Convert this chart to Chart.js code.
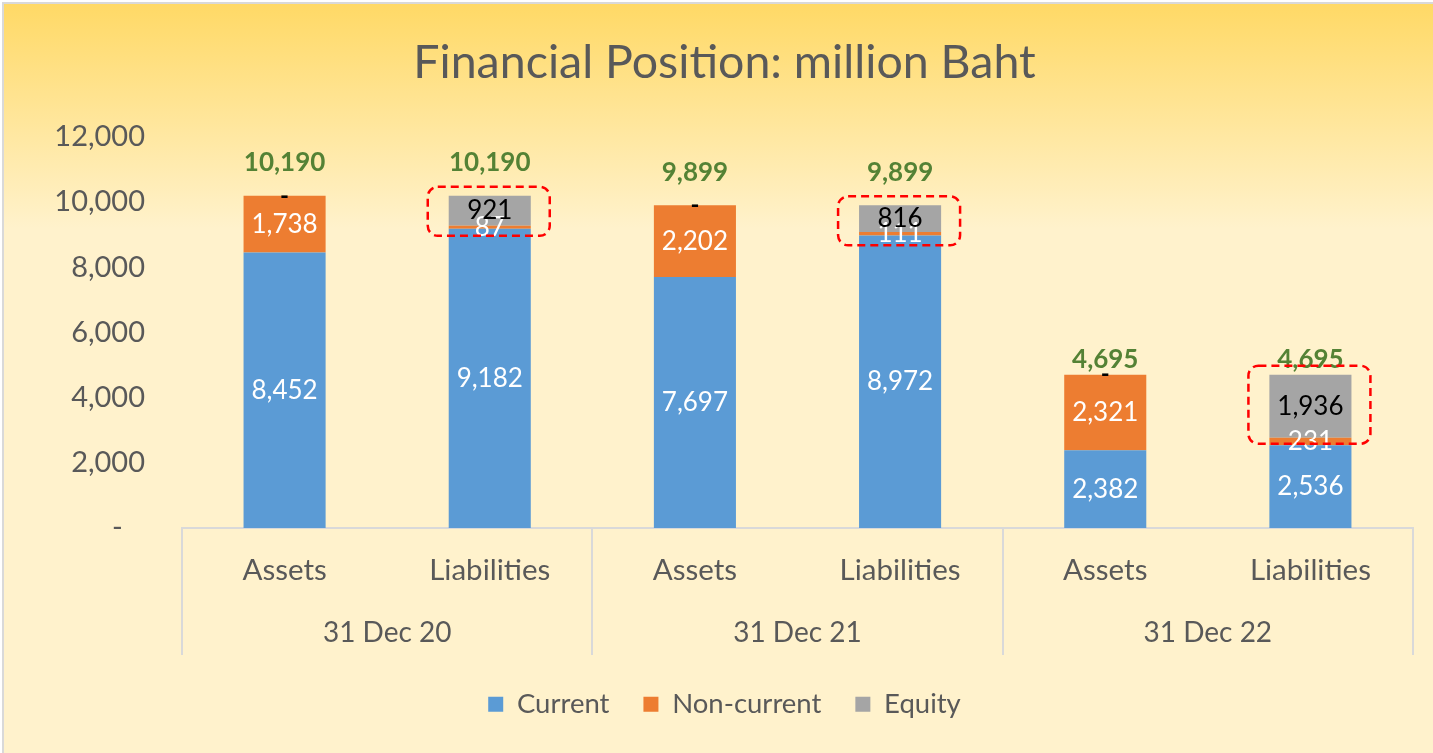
<!DOCTYPE html>
<html>
<head>
<meta charset="utf-8">
<script src="https://cdn.jsdelivr.net/npm/chart.js@4.4.1/dist/chart.umd.min.js"></script>
<style>
  html, body { margin: 0; padding: 0; background: #ffffff; }
  #frame {
    position: absolute;
    left: 2px;
    top: 2px;
    width: 1431px;
    height: 751px;
    box-sizing: border-box;
    border-left: 2px solid #d9d9d9;
    border-top: 2px solid #d9d9d9;
    background: linear-gradient(to bottom, #ffd966 0%, #fff2cc 30%, #fff2cc 100%);
  }
  #chart { position: absolute; left: 0; top: 0; }
</style>
</head>
<body>
<div id="frame"></div>
<canvas id="chart" width="1433" height="753"></canvas>
<script>
const categories = ["Assets", "Liabilities", "Assets", "Liabilities", "Assets", "Liabilities"];
const periods = ["31 Dec 20", "31 Dec 21", "31 Dec 22"];

const currentValues = [8452, 9182, 7697, 8972, 2382, 2536];
const nonCurrentValues = [1738, 87, 2202, 111, 2321, 231];
const equityValues = [0, 921, 0, 816, 0, 1936];
const totalValues = [10190, 10190, 9899, 9899, 4695, 4695];

const TEXT_GREY = "#595959";
const FONT = "Lato";

function formatNumber(value) {
  if (value === 0) return "-";
  return value.toLocaleString("en-US");
}

// labels inside the segments, totals above, red boxes round the equity
const labelPlugin = {
  id: "barLabels",
  afterDatasetsDraw(chart) {
    const ctx = chart.ctx;
    const yScale = chart.scales.y;
    ctx.save();
    ctx.textAlign = "center";
    ctx.textBaseline = "middle";

    chart.data.datasets.forEach((dataset, dsIndex) => {
      const meta = chart.getDatasetMeta(dsIndex);
      meta.data.forEach((bar, i) => {
        const value = dataset.data[i];
        const y = (bar.y + bar.base) / 2;
        if (value === 0) {
          ctx.font = "bold 24px " + FONT;
          ctx.fillStyle = "#000000";
        } else {
          ctx.font = "26px " + FONT;
          ctx.fillStyle = dataset.labelColor;
        }
        ctx.fillText(formatNumber(value), bar.x, y);
      });
    });

    const topMeta = chart.getDatasetMeta(0);
    ctx.font = "bold 26px " + FONT;
    ctx.fillStyle = "#548235";
    topMeta.data.forEach((bar, i) => {
      ctx.fillText(formatNumber(totalValues[i]), bar.x, yScale.getPixelForValue(totalValues[i] * 1.1));
    });

    const equityMeta = chart.getDatasetMeta(2);
    ctx.strokeStyle = "#ff0000";
    ctx.lineWidth = 2.5;
    ctx.setLineDash([8, 5]);
    equityMeta.data.forEach((bar, i) => {
      if (equityValues[i] === 0) return;
      const x1 = bar.x - 62;
      const x2 = bar.x + 60;
      const y1 = bar.y - 9;
      const y2 = Math.max(bar.base + 6, bar.y + 40);
      ctx.beginPath();
      ctx.roundRect(x1, y1, x2 - x1, y2 - y1, 10);
      ctx.stroke();
    });
    ctx.restore();
  },
  afterDraw(chart) {
    // group separators under the category axis
    const ctx = chart.ctx;
    const xScale = chart.scales.x;
    const bottom = chart.chartArea.bottom;
    const step = (xScale.right - xScale.left) / categories.length;
    ctx.save();
    ctx.strokeStyle = "#d9d9d9";
    ctx.lineWidth = 2;
    for (let i = 0; i <= categories.length; i += 2) {
      const x = Math.round(xScale.left + step * i);
      ctx.beginPath();
      ctx.moveTo(x, bottom);
      ctx.lineTo(x, bottom + 127);
      ctx.stroke();
    }
    ctx.restore();
  },
};

function drawChart() {
  new Chart(document.getElementById("chart"), {
    type: "bar",
    data: {
      labels: categories,
      datasets: [
        {
          label: "Current",
          data: currentValues,
          backgroundColor: "#5b9bd5",
          labelColor: "#ffffff",
        },
        {
          label: "Non-current",
          data: nonCurrentValues,
          backgroundColor: "#ed7d31",
          labelColor: "#ffffff",
        },
        {
          label: "Equity",
          data: equityValues,
          backgroundColor: "#a5a5a5",
          labelColor: "#000000",
        },
      ],
    },
    options: {
      responsive: false,
      animation: false,
      categoryPercentage: 1,
      barPercentage: 0.4,
      layout: {
        padding: { left: 36, right: 20, top: 0, bottom: 25 },
      },
      scales: {
        x: {
          stacked: true,
          weight: 0,
          grid: { display: false, drawTicks: false },
          border: { display: true, color: "#d9d9d9", width: 2 },
          ticks: {
            color: TEXT_GREY,
            font: { family: FONT, size: 29.5 },
            padding: 25,
            maxRotation: 0,
            autoSkip: false,
          },
          afterFit: (scale) => {
            scale.height = 70;
          },
        },
        x2: {
          type: "category",
          position: "bottom",
          labels: periods,
          offset: true,
          weight: 1,
          grid: { display: false, drawTicks: false },
          border: { display: false },
          ticks: {
            color: TEXT_GREY,
            font: { family: FONT, size: 28 },
            padding: 18,
            maxRotation: 0,
            autoSkip: false,
          },
          afterFit: (scale) => {
            scale.height = 58.5;
          },
        },
        y: {
          stacked: true,
          min: 0,
          max: 12000,
          grid: { display: false, drawTicks: false },
          border: { display: false },
          ticks: {
            stepSize: 2000,
            color: TEXT_GREY,
            font: { family: FONT, size: 29 },
            padding: 37,
            callback: (value) => (value === 0 ? "-   " : value.toLocaleString("en-US")),
          },
          afterFit: (scale) => {
            scale.width = 146;
          },
        },
      },
      plugins: {
        title: {
          display: true,
          text: "Financial Position: million Baht",
          color: TEXT_GREY,
          font: { family: FONT, size: 46.5, weight: "normal" },
          padding: { top: 35, bottom: 46 },
        },
        legend: {
          position: "bottom",
          labels: {
            color: TEXT_GREY,
            font: { family: FONT, size: 27.5 },
            boxWidth: 15,
            boxHeight: 15,
            padding: 34,
          },
        },
        tooltip: { enabled: false },
      },
    },
    plugins: [labelPlugin],
  });
}

Promise.all([
  document.fonts.load("28px Lato"),
  document.fonts.load("bold 24px Lato"),
]).then(drawChart, drawChart);
</script>
</body>
</html>
